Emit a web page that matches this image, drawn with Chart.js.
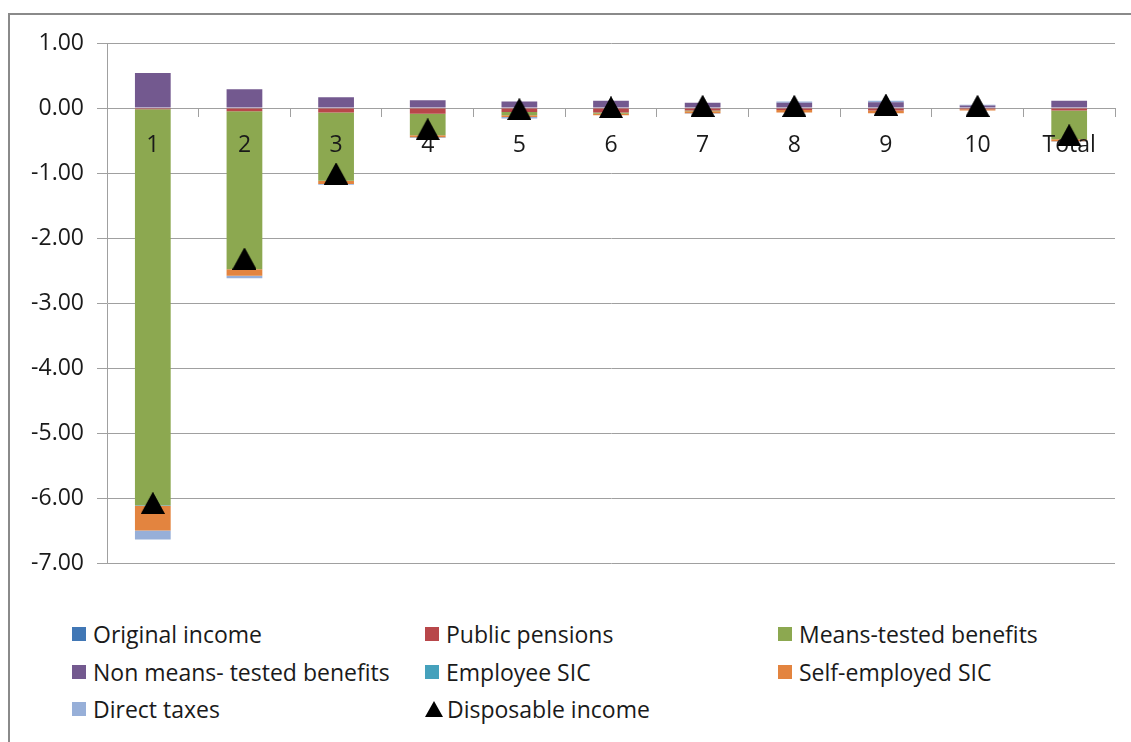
<!DOCTYPE html>
<html>
<head>
<meta charset="utf-8">
<script src="https://cdn.jsdelivr.net/npm/chart.js@4/dist/chart.umd.min.js"></script>
<style>
  body { margin: 0; background: #fff; font-family: "Open Sans", sans-serif; }
  #page { position: relative; width: 1131px; height: 742px; overflow: hidden; }
  #frame { position: absolute; left: 8px; top: 13px; width: 1140px; height: 760px; border: 2px solid #8a8a8a; }
  #chartBox { position: absolute; left: 0; top: 0; width: 1131px; height: 600px; }
  #legend { position: absolute; left: 72px; top: 619px; width: 1060px; }
  .lg-item { position: absolute; display: flex; align-items: center; font-size: 23px; color: #1a1a1a; white-space: nowrap; line-height: 30px; }
  .lg-box { width: 14px; height: 14px; margin-right: 7px; }
  .lg-tri { width: 0; height: 0; border-left: 9px solid transparent; border-right: 9px solid transparent; border-bottom: 16px solid #000; margin-right: 4px; }
</style>
</head>
<body>
<div id="page">
  <div id="frame"></div>
  <div id="chartBox"><canvas id="chart"></canvas></div>
  <div id="legend"></div>
</div>
<script>
// Decile categories
const categories = ['1', '2', '3', '4', '5', '6', '7', '8', '9', '10', 'Total'];

// Series values
const originalIncome   = [0, 0, 0, 0, 0, 0, 0, 0, 0, 0, 0];
const publicPensions   = [-0.02, -0.05, -0.07, -0.09, -0.06, -0.07, -0.04, -0.03, -0.04, -0.02, -0.04];
const meansTested      = [-6.09, -2.43, -1.05, -0.33, -0.05, -0.02, -0.01, 0, 0, 0, -0.44];
const nonMeansTested   = [0.54, 0.29, 0.165, 0.12, 0.10, 0.11, 0.08, 0.08, 0.09, 0.04, 0.11];
const employeeSic      = [-0.01, 0, 0, 0, 0, 0, 0, 0, 0, 0, 0];
const selfEmployedSic  = [-0.38, -0.10, -0.05, -0.03, -0.03, -0.02, -0.03, -0.04, -0.04, -0.02, -0.03];
const directTaxes      = [-0.14, -0.04, -0.01, -0.01, -0.02, 0, -0.01, 0.02, 0.02, 0.01, -0.01];
const disposableIncome = [-6.08, -2.32, -1.01, -0.33, -0.02, 0.01, 0.03, 0.03, 0.05, 0.03, -0.42];

// Y axis ticks
const yTicks = [1, 0, -1, -2, -3, -4, -5, -6, -7];

const seriesNames = ['Original income', 'Public pensions', 'Means-tested benefits',
    'Non means- tested benefits', 'Employee SIC', 'Self-employed SIC', 'Direct taxes', 'Disposable income'];
const seriesColors = ['#4177B5', '#B8474A', '#8CA850', '#73598F', '#45A1BC', '#E3843F', '#97AFD8', '#000000'];
const barSeries = [originalIncome, publicPensions, meansTested, nonMeansTested, employeeSic, selfEmployedSic, directTaxes];

// triangle marker centred on its box, like Excel does
const tri = document.createElement('canvas');
tri.width = 24;
tri.height = 22;
const tctx = tri.getContext('2d');
tctx.fillStyle = '#000';
tctx.beginPath();
tctx.moveTo(12, 0);
tctx.lineTo(24, 22);
tctx.lineTo(0, 22);
tctx.closePath();
tctx.fill();

const datasets = barSeries.map((values, i) => ({
    type: 'bar',
    label: seriesNames[i],
    data: values,
    backgroundColor: seriesColors[i],
    borderWidth: 0,
    stack: 'main',
    order: 1,
    categoryPercentage: 1,
    barPercentage: 0.39
}));

datasets.push({
    type: 'line',
    label: seriesNames[7],
    data: disposableIncome,
    showLine: false,
    stack: 'disp',
    order: 0,
    pointStyle: tri,
    pointRadius: 12,
    pointHoverRadius: 12,
    pointBackgroundColor: '#000',
    pointBorderColor: '#000'
});

// markers sit above the category labels, labels above the bars
const redrawMarkers = {
    id: 'redrawMarkers',
    afterDraw(chart) {
        const meta = chart.getDatasetMeta(7);
        const ctx = chart.ctx;
        ctx.save();
        meta.data.forEach(p => p.draw(ctx, chart.chartArea));
        ctx.restore();
    }
};

const gridColor = '#a0a0a0';
const axisFont = { family: 'Open Sans', size: 23 };

new Chart(document.getElementById('chart'), {
    data: { labels: categories, datasets: datasets },
    plugins: [redrawMarkers],
    options: {
        responsive: true,
        maintainAspectRatio: false,
        devicePixelRatio: 1,
        animation: false,
        layout: { padding: { left: 0, top: 43, right: 16, bottom: 37 } },
        plugins: { legend: { display: false }, tooltip: { enabled: false } },
        scales: {
            x: {
                stacked: true,
                position: { y: 0 },
                offset: true,
                grid: { display: true, drawOnChartArea: false, drawTicks: true, tickLength: 9, color: gridColor, offset: true },
                border: { display: false },
                ticks: { color: '#1a1a1a', font: axisFont, padding: 15, maxRotation: 0, z: 1 }
            },
            y: {
                stacked: true,
                min: -7,
                max: 1,
                afterBuildTicks: (scale) => { scale.ticks = yTicks.map(v => ({ value: v })); },
                afterFit: (scale) => { scale.width = 107; },
                grid: { color: gridColor, lineWidth: 1, tickLength: 10 },
                border: { display: true, color: gridColor, width: 1 },
                ticks: {
                    color: '#1a1a1a',
                    font: axisFont,
                    padding: 13,
                    callback: (v) => Number(v).toFixed(2)
                }
            }
        }
    }
});

// HTML legend in three columns, like the original
const legend = document.getElementById('legend');
seriesNames.forEach((name, n) => {
    const col = n % 3, row = Math.floor(n / 3);
    const item = document.createElement('div');
    item.className = 'lg-item';
    item.style.left = (col * 353) + 'px';
    item.style.top = (row * 37.5) + 'px';
    const mark = document.createElement('div');
    if (n === 7) {
        mark.className = 'lg-tri';
    } else {
        mark.className = 'lg-box';
        mark.style.background = seriesColors[n];
    }
    const txt = document.createElement('span');
    txt.textContent = name;
    item.appendChild(mark);
    item.appendChild(txt);
    legend.appendChild(item);
});
</script>
</body>
</html>
